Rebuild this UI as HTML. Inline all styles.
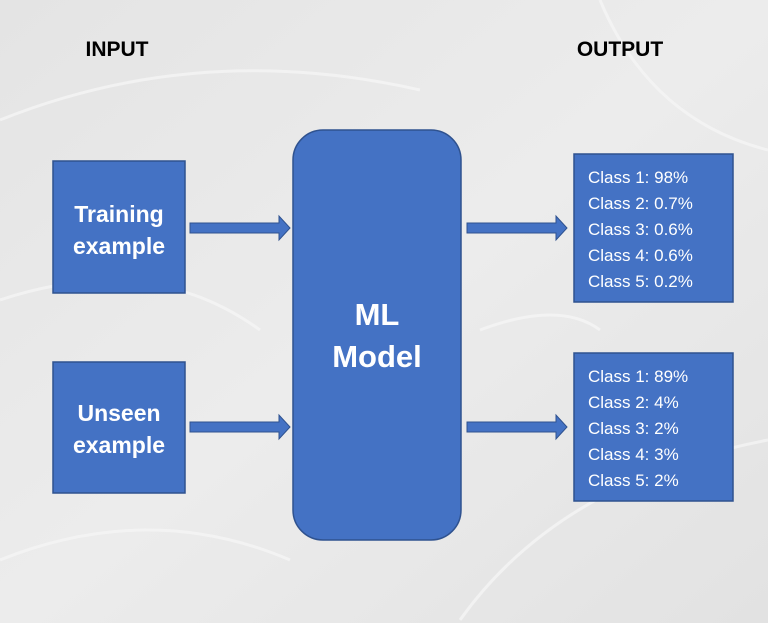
<!DOCTYPE html>
<html><head><style>
html,body{margin:0;padding:0;width:768px;height:623px;overflow:hidden;background:#e6e6e6;}
svg{display:block}
text{font-family:"Liberation Sans",sans-serif;}
</style></head><body>
<svg width="768" height="623" viewBox="0 0 768 623" xmlns="http://www.w3.org/2000/svg">
<defs>
<linearGradient id="bg" x1="0" y1="0" x2="1" y2="1">
<stop offset="0" stop-color="#e4e4e4"/><stop offset="0.5" stop-color="#ececec"/><stop offset="1" stop-color="#e2e2e2"/>
</linearGradient>
</defs>
<rect width="768" height="623" fill="url(#bg)"/>
<g stroke="#f6f6f6" stroke-width="3" fill="none" opacity="0.7">
<path d="M0 120 Q200 40 420 90"/><path d="M0 300 Q150 250 260 330"/><path d="M460 620 Q560 480 768 440"/>
<path d="M600 0 Q650 120 768 150"/><path d="M0 560 Q150 500 290 560"/><path d="M480 330 Q560 300 600 330"/>
</g>
<text x="117" y="56" font-size="21" font-weight="bold" text-anchor="middle" fill="#000">INPUT</text>
<text x="620" y="56" font-size="21" font-weight="bold" text-anchor="middle" fill="#000">OUTPUT</text>

<rect x="53" y="161" width="132" height="132" fill="#4472c4" stroke="#2f528f" stroke-width="1.5"/>
<text x="119" y="222" font-size="23" font-weight="bold" text-anchor="middle" fill="#fff">Training</text>
<text x="119" y="254" font-size="23" font-weight="bold" text-anchor="middle" fill="#fff">example</text>

<rect x="53" y="362" width="132" height="131" fill="#4472c4" stroke="#2f528f" stroke-width="1.5"/>
<text x="119" y="421" font-size="23" font-weight="bold" text-anchor="middle" fill="#fff">Unseen</text>
<text x="119" y="453" font-size="23" font-weight="bold" text-anchor="middle" fill="#fff">example</text>

<rect x="293" y="130" width="168" height="410" rx="30" fill="#4472c4" stroke="#2f528f" stroke-width="1.5"/>
<text x="377" y="325" font-size="31" font-weight="bold" text-anchor="middle" fill="#fff">ML</text>
<text x="377" y="367" font-size="31" font-weight="bold" text-anchor="middle" fill="#fff">Model</text>

<g fill="#4472c4" stroke="#2f528f" stroke-width="1">
<path d="M190 223 H279 V216 L290 228 L279 240 V233 H190 Z"/>
<path d="M190 422 H279 V415 L290 427 L279 439 V432 H190 Z"/>
<path d="M467 223 H556 V216 L567 228 L556 240 V233 H467 Z"/>
<path d="M467 422 H556 V415 L567 427 L556 439 V432 H467 Z"/>
</g>

<rect x="574" y="154" width="159" height="148" fill="#4472c4" stroke="#2f528f" stroke-width="1.5"/>
<g font-size="17" fill="#fff">
<text x="588" y="183">Class 1: 98%</text>
<text x="588" y="209">Class 2: 0.7%</text>
<text x="588" y="235">Class 3: 0.6%</text>
<text x="588" y="261">Class 4: 0.6%</text>
<text x="588" y="287">Class 5: 0.2%</text>
</g>

<rect x="574" y="353" width="159" height="148" fill="#4472c4" stroke="#2f528f" stroke-width="1.5"/>
<g font-size="17" fill="#fff">
<text x="588" y="382">Class 1: 89%</text>
<text x="588" y="408">Class 2: 4%</text>
<text x="588" y="434">Class 3: 2%</text>
<text x="588" y="460">Class 4: 3%</text>
<text x="588" y="486">Class 5: 2%</text>
</g>
</svg>
</body></html>
